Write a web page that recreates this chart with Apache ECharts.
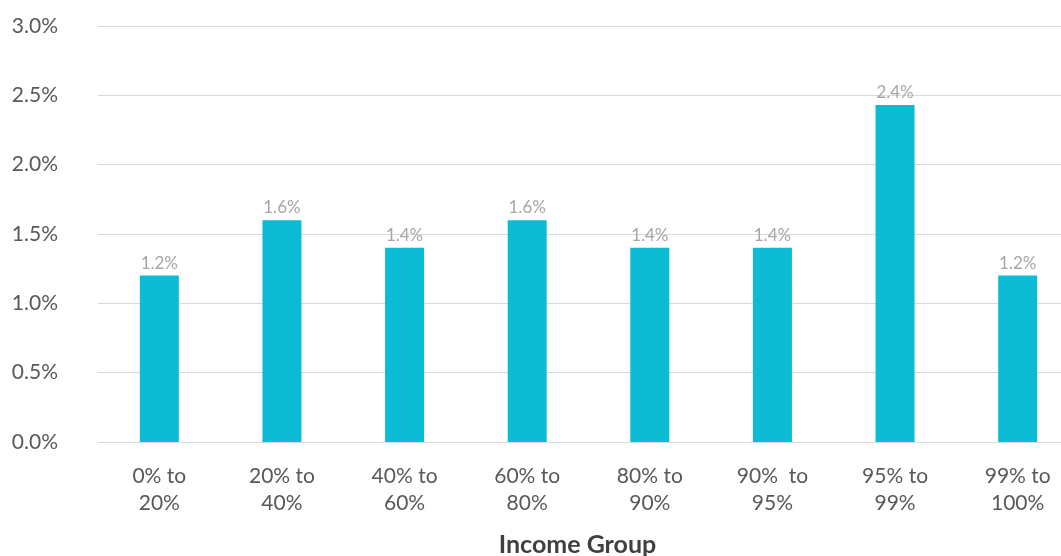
<!DOCTYPE html>
<html>
<head>
<meta charset="utf-8">
<script src="https://cdn.jsdelivr.net/npm/echarts@6/dist/echarts.min.js"></script>
<style>
html,body{margin:0;padding:0;background:#fff;}
#c{width:1061px;height:556px;}
</style>
</head>
<body>
<div id="c"></div>
<script>
const categories = ["0% to\n20%", "20% to\n40%", "40% to\n60%", "60% to\n80%", "80% to\n90%", "90%  to\n95%", "95% to\n99%", "99% to\n100%"];
const values = [1.2, 1.6, 1.4, 1.6, 1.4, 1.4, 2.43, 1.2];
const yTicks = { min: 0, max: 3, interval: 0.5 };
const xAxisTitle = "Income Group";

const chart = echarts.init(document.getElementById('c'), null, {renderer: 'canvas'});
chart.setOption({
  animation: false,
  textStyle: { fontFamily: 'Lato' },
  grid: { left: 98, right: -18, top: 26, bottom: 114, containLabel: false, outerBoundsMode: 'none' },
  xAxis: {
    type: 'category',
    data: categories,
    axisLine: { lineStyle: { color: '#d9d9d9', width: 1 } },
    axisTick: { show: false },
    axisLabel: { color: '#595959', fontSize: 21, fontFamily: 'Lato', lineHeight: 27, margin: 21, interval: 0 },
    name: xAxisTitle,
    nameLocation: 'middle',
    nameGap: 90,
    nameTextStyle: { color: '#404040', fontSize: 25, fontWeight: 'bold', fontFamily: 'Lato', padding: [0, 0, 0, -22] }
  },
  yAxis: {
    type: 'value',
    min: yTicks.min, max: yTicks.max, interval: yTicks.interval,
    axisLine: { show: false },
    axisTick: { show: false },
    splitLine: { lineStyle: { color: '#d9d9d9', width: 1 } },
    axisLabel: { color: '#595959', fontSize: 21, fontFamily: 'Lato', margin: 40,
      formatter: v => v.toFixed(1) + '%' }
  },
  series: [{
    type: 'bar',
    data: values,
    barWidth: 39,
    itemStyle: { color: '#0bbcd4' },
    label: { show: true, position: 'top', distance: 4, color: '#a6a6a6', fontSize: 17, fontFamily: 'Lato',
      formatter: p => p.value.toFixed(1) + '%' }
  }]
});
</script>
</body>
</html>
